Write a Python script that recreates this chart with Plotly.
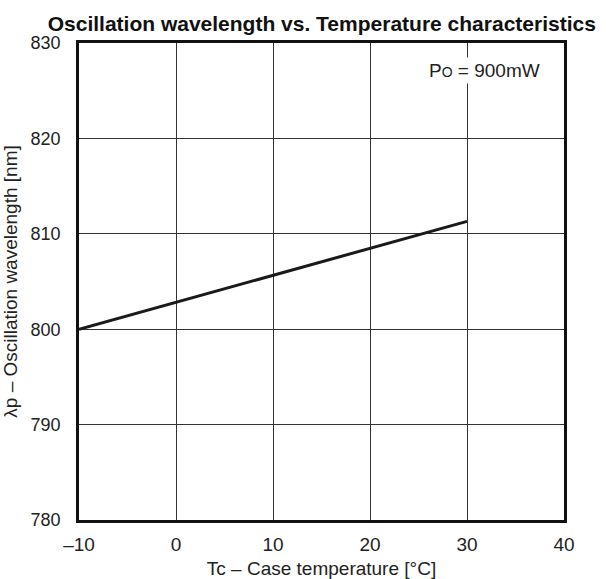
import plotly.graph_objects as go

temp_c = [-10, 30]
wavelength_nm = [800.0, 811.3]
x_ticks = [-10, 0, 10, 20, 30, 40]
x_tick_labels = ["–10", "0", "10", "20", "30", "40"]
y_ticks = [780, 790, 800, 810, 820, 830]

font_family = "Liberation Sans, Arial, sans-serif"

fig = go.Figure()
fig.add_trace(go.Scatter(x=temp_c, y=wavelength_nm, mode="lines",
                         line=dict(color="#1a1a1a", width=3), showlegend=False,
                         hoverinfo="skip"))

fig.update_layout(
    width=606, height=579,
    margin=dict(l=79, r=42, t=43, b=59),
    paper_bgcolor="white", plot_bgcolor="white",
    font=dict(family=font_family, size=18, color="#222222"),
    title=dict(text="<b>Oscillation wavelength vs. Temperature characteristics</b>",
               x=0.531, xanchor="center", y=0.960, yanchor="middle",
               font=dict(size=21, color="#111111")),
    xaxis=dict(range=[-10, 40], tickvals=x_ticks, ticktext=x_tick_labels,
               showgrid=True, gridcolor="#333333", gridwidth=1,
               showline=True, linecolor="#111111", linewidth=2.5, mirror=True,
               ticks="outside", ticklen=5, tickcolor="rgba(0,0,0,0)",
               zeroline=False, automargin=False,
               tickfont=dict(size=19),
               title=dict(text="Tc – Case temperature [°C]", standoff=10,
                          font=dict(size=19))),
    yaxis=dict(range=[780, 830], tickvals=y_ticks,
               showgrid=True, gridcolor="#333333", gridwidth=1,
               showline=True, linecolor="#111111", linewidth=2.5, mirror=True,
               ticks="outside", ticklen=12, tickcolor="rgba(0,0,0,0)",
               zeroline=False, automargin=False,
               tickfont=dict(size=18),
               title=dict(text="λp – Oscillation wavelength [nm]", standoff=8,
                          font=dict(size=19))),
    annotations=[dict(text="P<span style='font-size:14px'>O</span> = 900mW",
                      x=0.957, y=0.943, xref="paper", yref="paper",
                      xanchor="right", yanchor="middle", showarrow=False,
                      bgcolor="white", borderpad=2,
                      font=dict(size=19, color="#222222"))],
)

fig.write_html("out.html",
               config={"displayModeBar": False},
               post_script="document.body.style.margin='0px';document.body.style.overflow='hidden';")
